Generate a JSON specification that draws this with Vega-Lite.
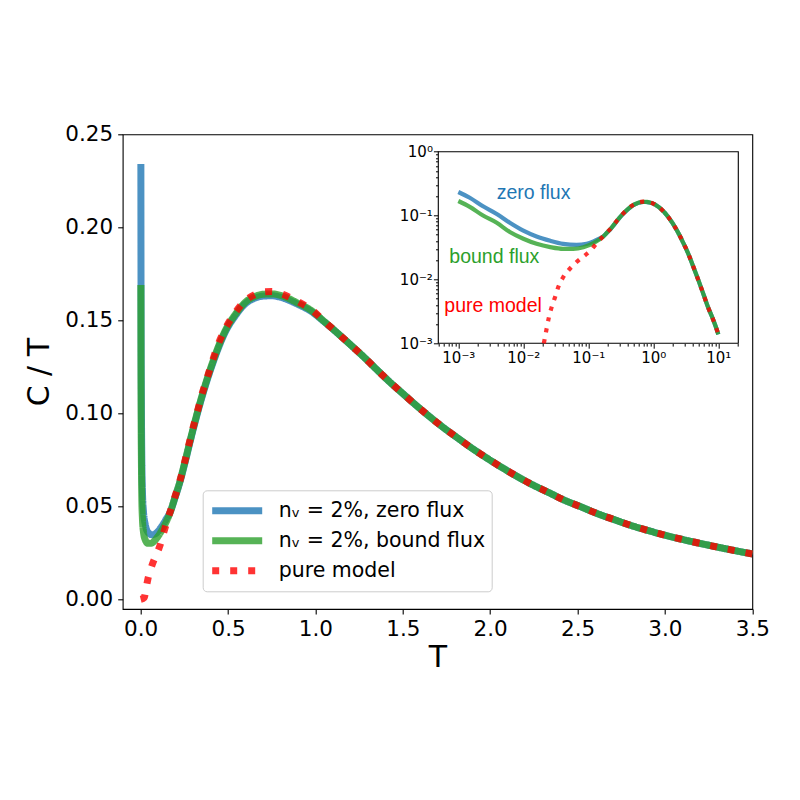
{
  "$schema": "https://vega.github.io/schema/vega-lite/v6.json",
  "description": "C/T versus T for two flux boundary conditions and the pure model, with a log-log inset",
  "width": 629.6,
  "height": 474.7,
  "autosize": {"type": "none"},
  "padding": {"left": 122.7, "top": 134.3, "right": 47.7, "bottom": 191},
  "background": "white",
  "config": {
    "view": {"stroke": "black", "strokeWidth": 1.1},
    "font": "DejaVu Sans",
    "axis": {"grid": false, "domain": false, "labelFont": "DejaVu Sans", "titleFont": "DejaVu Sans", "labelColor": "black", "tickColor": "black", "titleColor": "black", "titleFontWeight": "normal", "labelFlush": false, "labelOverlap": false}
  },
  "data": {
    "values": [
      {"T": 0, "z": null, "b": null, "p": 0},
      {"T": 0.001, "z": 0.234, "b": 0.169, "p": null},
      {"T": 0.0015, "z": 0.19, "b": 0.137, "p": null},
      {"T": 0.0024, "z": 0.14, "b": 0.1, "p": null},
      {"T": 0.0039, "z": 0.106, "b": 0.077, "p": null},
      {"T": 0.0062, "z": 0.077, "b": 0.0553, "p": null},
      {"T": 0.01, "z": 0.058, "b": 0.0433, "p": null},
      {"T": 0.016, "z": 0.047, "b": 0.0361, "p": null},
      {"T": 0.0207, "z": null, "b": null, "p": 0.001},
      {"T": 0.0229, "z": null, "b": null, "p": 0.00172},
      {"T": 0.0248, "z": null, "b": null, "p": 0.00257},
      {"T": 0.026, "z": 0.0403, "b": 0.032, "p": null},
      {"T": 0.0273, "z": null, "b": null, "p": 0.00369},
      {"T": 0.0308, "z": null, "b": null, "p": 0.0053},
      {"T": 0.0345, "z": null, "b": null, "p": 0.0076},
      {"T": 0.041, "z": 0.0361, "b": 0.0301, "p": 0.0108},
      {"T": 0.052, "z": null, "b": null, "p": 0.0147},
      {"T": 0.059, "z": null, "b": 0.0301, "p": null},
      {"T": 0.066, "z": 0.0347, "b": null, "p": 0.0187},
      {"T": 0.084, "z": null, "b": 0.032, "p": null},
      {"T": 0.094, "z": 0.036, "b": null, "p": 0.025},
      {"T": 0.106, "z": null, "b": null, "p": 0.0278},
      {"T": 0.12, "z": 0.0392, "b": 0.037, "p": null},
      {"T": 0.135, "z": null, "b": null, "p": 0.037},
      {"T": 0.145, "z": 0.043, "b": null, "p": null},
      {"T": 0.168, "z": null, "b": null, "p": 0.047},
      {"T": 0.17, "z": 0.0472, "b": 0.0471, "p": null},
      {"T": 0.196, "z": 0.0545, "b": 0.0548, "p": 0.0552},
      {"T": 0.225, "z": 0.0632, "b": 0.0636, "p": 0.064},
      {"T": 0.25, "z": 0.0722, "b": 0.0727, "p": 0.0732},
      {"T": 0.275, "z": null, "b": null, "p": 0.083},
      {"T": 0.3, "z": 0.0912, "b": 0.0918, "p": 0.0925},
      {"T": 0.325, "z": null, "b": null, "p": 0.1012},
      {"T": 0.35, "z": 0.1085, "b": 0.1092, "p": 0.11},
      {"T": 0.38, "z": null, "b": null, "p": 0.119},
      {"T": 0.41, "z": 0.1262, "b": 0.127, "p": 0.128},
      {"T": 0.445, "z": null, "b": null, "p": 0.1375},
      {"T": 0.49, "z": 0.1448, "b": 0.1456, "p": 0.1465},
      {"T": 0.54, "z": 0.1522, "b": 0.153, "p": 0.154},
      {"T": 0.6, "z": 0.159, "b": 0.1598, "p": 0.1607},
      {"T": 0.65, "z": 0.1618, "b": 0.1627, "p": 0.1637},
      {"T": 0.7, "z": 0.163, "b": 0.164, "p": 0.1653},
      {"T": 0.75, "z": 0.1632, "b": 0.1642, "p": 0.1655},
      {"T": 0.8, "z": 0.1624, "b": 0.1634, "p": 0.1644},
      {"T": 0.89, "z": 0.159, "b": 0.1597, "p": 0.1605},
      {"T": 0.98, "z": 0.1545, "b": 0.155, "p": 0.1555},
      {"T": 1.05, "z": 0.1492, "b": 0.1494, "p": 0.1495},
      {"T": 1.13, "z": 0.1428, "b": 0.1428, "p": 0.1428},
      {"T": 1.2, "z": 0.1369, "b": 0.1369, "p": 0.1369},
      {"T": 1.28, "z": 0.13, "b": 0.13, "p": 0.13},
      {"T": 1.35, "z": 0.1236, "b": 0.1236, "p": 0.1236},
      {"T": 1.42, "z": 0.1173, "b": 0.1173, "p": 0.1173},
      {"T": 1.5, "z": 0.1106, "b": 0.1106, "p": 0.1106},
      {"T": 1.575, "z": 0.1044, "b": 0.1044, "p": 0.1044},
      {"T": 1.655, "z": 0.0981, "b": 0.0981, "p": 0.0981},
      {"T": 1.73, "z": 0.0925, "b": 0.0925, "p": 0.0925},
      {"T": 1.81, "z": 0.087, "b": 0.087, "p": 0.087},
      {"T": 1.89, "z": 0.0816, "b": 0.0816, "p": 0.0816},
      {"T": 1.98, "z": 0.076, "b": 0.076, "p": 0.076},
      {"T": 2.065, "z": 0.071, "b": 0.071, "p": 0.071},
      {"T": 2.15, "z": 0.0663, "b": 0.0663, "p": 0.0663},
      {"T": 2.24, "z": 0.0617, "b": 0.0617, "p": 0.0617},
      {"T": 2.335, "z": 0.0574, "b": 0.0574, "p": 0.0574},
      {"T": 2.425, "z": 0.0533, "b": 0.0533, "p": 0.0533},
      {"T": 2.52, "z": 0.0497, "b": 0.0497, "p": 0.0497},
      {"T": 2.61, "z": 0.0462, "b": 0.0462, "p": 0.0462},
      {"T": 2.705, "z": 0.043, "b": 0.043, "p": 0.043},
      {"T": 2.8, "z": 0.0399, "b": 0.0399, "p": 0.0399},
      {"T": 2.9, "z": 0.0371, "b": 0.0371, "p": 0.0371},
      {"T": 3.0, "z": 0.0345, "b": 0.0345, "p": 0.0345},
      {"T": 3.1, "z": 0.0322, "b": 0.0322, "p": 0.0322},
      {"T": 3.2, "z": 0.0301, "b": 0.0301, "p": 0.0301},
      {"T": 3.3, "z": 0.0281, "b": 0.0281, "p": 0.0281},
      {"T": 3.4, "z": 0.0262, "b": 0.0262, "p": 0.0262},
      {"T": 3.5, "z": 0.0244, "b": 0.0244, "p": 0.0244},
      {"T": 4, "z": 0.0172, "b": 0.0172, "p": 0.0172},
      {"T": 5, "z": 0.0094, "b": 0.0094, "p": 0.0094},
      {"T": 6, "z": 0.0056, "b": 0.0056, "p": 0.0056},
      {"T": 7, "z": 0.0036, "b": 0.0036, "p": 0.0036},
      {"T": 8, "z": 0.0026, "b": 0.0026, "p": 0.0026},
      {"T": 9, "z": 0.0019, "b": 0.0019, "p": 0.0019},
      {"T": 10, "z": 0.00138, "b": 0.00138, "p": 0.00138}
    ]
  },
  "transform": [
    {"fold": ["z", "b", "p"], "as": ["s", "v"]},
    {"filter": "datum.v != null"}
  ],
  "layer": [
    {
      "transform": [{"filter": "datum.T <= 3.5"}],
      "encoding": {
        "x": {
          "field": "T", "type": "quantitative", "title": "T",
          "scale": {"domain": [-0.103, 3.5], "nice": false, "zero": false},
          "axis": {"orient": "bottom", "values": [0, 0.5, 1, 1.5, 2, 2.5, 3, 3.5], "format": ".1f", "tickSize": 5, "tickWidth": 1.1, "labelFontSize": 21.5, "labelPadding": 4, "titleFontSize": 30, "titlePadding": 3}
        },
        "y": {
          "field": "v", "type": "quantitative", "title": "C / T",
          "scale": {"domain": [-0.0052, 0.25], "nice": false, "zero": false},
          "axis": {"orient": "left", "values": [0, 0.05, 0.1, 0.15, 0.2, 0.25], "format": ".2f", "tickSize": 5, "tickWidth": 1.1, "labelFontSize": 21.5, "labelPadding": 5, "titleFontSize": 30, "titlePadding": 10}
        },
        "color": {
          "field": "s", "type": "nominal",
          "scale": {"domain": ["z", "b", "p"], "range": ["#1f77b4", "#2ca02c", "#ff0000"]},
          "legend": {"title": null, "orient": "none", "legendX": 80, "legendY": 356, "labelExpr": "datum.value == 'z' ? 'nᵥ = 2%, zero flux' : datum.value == 'b' ? 'nᵥ = 2%, bound flux' : 'pure model'", "labelFont": "DejaVu Sans", "labelFontSize": 20.5, "labelLimit": 0, "labelColor": "black", "symbolType": "stroke", "symbolSize": 2500, "symbolStrokeWidth": 7, "symbolOpacity": 0.8, "padding": 6, "cornerRadius": 4, "strokeColor": "#cccccc", "fillColor": "white", "labelOffset": 13, "clipHeight": 29, "rowPadding": 1}
        },
        "strokeDash": {
          "field": "s", "type": "nominal",
          "scale": {"domain": ["z", "b", "p"], "range": [[1, 0], [1, 0], [7, 11]]},
          "legend": {"title": null, "orient": "none", "legendX": 80, "legendY": 356, "labelExpr": "datum.value == 'z' ? 'nᵥ = 2%, zero flux' : datum.value == 'b' ? 'nᵥ = 2%, bound flux' : 'pure model'", "labelFont": "DejaVu Sans", "labelFontSize": 20.5, "labelLimit": 0, "labelColor": "black", "symbolType": "stroke", "symbolSize": 2500, "symbolStrokeWidth": 7, "symbolOpacity": 0.8, "padding": 6, "cornerRadius": 4, "strokeColor": "#cccccc", "fillColor": "white", "labelOffset": 13, "clipHeight": 29, "rowPadding": 1}
        }
      },
      "layer": [
        {"transform": [{"filter": "datum.s == 'z'"}], "mark": {"type": "line", "strokeWidth": 7, "strokeOpacity": 0.8, "interpolate": "monotone", "strokeCap": "butt"}},
        {"transform": [{"filter": "datum.s == 'b'"}], "mark": {"type": "line", "strokeWidth": 7, "strokeOpacity": 0.8, "interpolate": "monotone", "strokeCap": "butt"}},
        {"transform": [{"filter": "datum.s == 'p'"}], "mark": {"type": "line", "strokeWidth": 7, "strokeOpacity": 0.8, "interpolate": "monotone", "strokeCap": "butt"}}
      ]
    },
    {
      "layer": [
        {
          "data": {"values": [{}]},
          "mark": {"type": "rect", "fill": "white", "stroke": "black", "strokeWidth": 1.1},
          "encoding": {
            "x": {
              "datum": 0.000492, "type": "quantitative",
              "scale": {"type": "log", "domain": [0.000492, 20.3], "range": [315.6, 615.6], "nice": false},
              "axis": {"orient": "bottom", "offset": -265.7, "title": null, "values": [0.0005, 0.0006, 0.0007, 0.0008, 0.0009, 0.001, 0.002, 0.003, 0.004, 0.005, 0.006, 0.007, 0.008, 0.009, 0.01, 0.02, 0.03, 0.04, 0.05, 0.06, 0.07, 0.08, 0.09, 0.1, 0.2, 0.3, 0.4, 0.5, 0.6, 0.7, 0.8, 0.9, 1, 2, 3, 4, 5, 6, 7, 8, 9, 10, 20], "labelExpr": "datum.value == 0.001 ? '10⁻³' : datum.value == 0.01 ? '10⁻²' : datum.value == 0.1 ? '10⁻¹' : datum.value == 1 ? '10⁰' : datum.value == 10 ? '10¹' : ''", "tickSize": {"condition": {"test": "indexof([0.001, 0.01, 0.1, 1, 10], datum.value) >= 0", "value": 4.9}, "value": 2.8}, "tickWidth": 1, "labelFontSize": 15, "labelPadding": 2}
            },
            "x2": {"datum": 20.3},
            "y": {
              "datum": 0.001, "type": "quantitative",
              "scale": {"type": "log", "domain": [0.001, 1], "range": [209, 17.4], "nice": false},
              "axis": {"orient": "left", "offset": -315.6, "title": null, "values": [0.001, 0.002, 0.003, 0.004, 0.005, 0.006, 0.007, 0.008, 0.009, 0.01, 0.02, 0.03, 0.04, 0.05, 0.06, 0.07, 0.08, 0.09, 0.1, 0.2, 0.3, 0.4, 0.5, 0.6, 0.7, 0.8, 0.9, 1], "labelExpr": "datum.value == 0.001 ? '10⁻³' : datum.value == 0.01 ? '10⁻²' : datum.value == 0.1 ? '10⁻¹' : datum.value == 1 ? '10⁰' : ''", "tickSize": {"condition": {"test": "indexof([0.001, 0.01, 0.1, 1], datum.value) >= 0", "value": 4.9}, "value": 2.8}, "tickWidth": 1, "labelFontSize": 15, "labelPadding": 1}
            },
            "y2": {"datum": 1}
          }
        },
        {
          "transform": [{"filter": "datum.s == 'z' && datum.T > 0 && datum.v >= 0.001"}],
          "mark": {"type": "line", "color": "#1f77b4", "strokeWidth": 4.2, "strokeOpacity": 0.8, "interpolate": "monotone"},
          "encoding": {"x": {"field": "T", "type": "quantitative", "title": null}, "y": {"field": "v", "type": "quantitative", "title": null}}
        },
        {
          "transform": [{"filter": "datum.s == 'b' && datum.T > 0 && datum.v >= 0.001"}],
          "mark": {"type": "line", "color": "#2ca02c", "strokeWidth": 4.2, "strokeOpacity": 0.8, "interpolate": "monotone"},
          "encoding": {"x": {"field": "T", "type": "quantitative", "title": null}, "y": {"field": "v", "type": "quantitative", "title": null}}
        },
        {
          "transform": [{"filter": "datum.s == 'p' && datum.T > 0 && datum.v >= 0.001"}],
          "mark": {"type": "line", "color": "#ff0000", "strokeWidth": 4.2, "strokeOpacity": 0.8, "strokeDash": [4.2, 6.9], "strokeCap": "butt", "interpolate": "monotone"},
          "encoding": {"x": {"field": "T", "type": "quantitative", "title": null}, "y": {"field": "v", "type": "quantitative", "title": null}}
        },
        {
          "data": {"values": [{}]},
          "mark": {"type": "text", "text": "zero flux", "color": "#1f77b4", "font": "Liberation Sans", "fontSize": 19.5, "align": "left", "baseline": "middle"},
          "encoding": {"x": {"datum": 0.0039, "type": "quantitative"}, "y": {"datum": 0.2285, "type": "quantitative"}}
        },
        {
          "data": {"values": [{}]},
          "mark": {"type": "text", "text": "bound flux", "color": "#2ca02c", "font": "Liberation Sans", "fontSize": 19.5, "align": "left", "baseline": "middle"},
          "encoding": {"x": {"datum": 0.000727, "type": "quantitative"}, "y": {"datum": 0.0223, "type": "quantitative"}}
        },
        {
          "data": {"values": [{}]},
          "mark": {"type": "text", "text": "pure model", "color": "#ff0000", "font": "Liberation Sans", "fontSize": 19.5, "align": "left", "baseline": "middle"},
          "encoding": {"x": {"datum": 0.000609, "type": "quantitative"}, "y": {"datum": 0.00383, "type": "quantitative"}}
        }
      ]
    }
  ],
  "resolve": {"scale": {"x": "independent", "y": "independent"}, "axis": {"x": "independent", "y": "independent"}}
}
